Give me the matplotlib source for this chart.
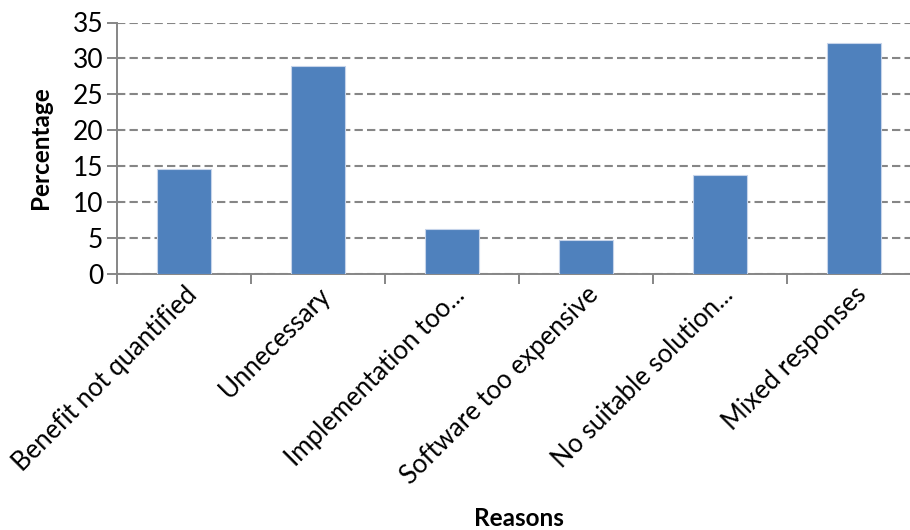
import matplotlib
matplotlib.use("Agg")
import matplotlib.pyplot as plt
import numpy as np

plt.rcParams['font.family'] = ['Lato', 'DejaVu Sans']

reasons = ['Benefit not quantified', 'Unnecessary', 'Implementation too...',
           'Software too expensive', 'No suitable solution...', 'Mixed responses']
percentage = [14.6, 28.9, 6.3, 4.7, 13.8, 32.1]
yticks = [0, 5, 10, 15, 20, 25, 30, 35]

W, H = 910, 530
fig = plt.figure(figsize=(W / 100, H / 100), dpi=100)
# axes box in pixels: left 117, right 921 (runs past the edge), top 22.5, bottom 274
ax = fig.add_axes([117 / W, (H - 274) / H, (921 - 117) / W, (274 - 22.5) / H])

grey = '#868686'
x = np.arange(len(reasons))
ax.bar(x, percentage, width=0.4, color='#4f81bd', edgecolor='#c6d4ea',
       linewidth=0.8, zorder=3)

ax.set_xlim(-0.5, len(reasons) - 0.5)
ax.set_ylim(0, 35)
ax.set_yticks(yticks)
ax.yaxis.grid(True, linestyle=(0, (4, 2)), color=grey, linewidth=1.5, zorder=0)

ax.set_xticks(np.arange(len(reasons) + 1) - 0.5, minor=False)
ax.set_xticklabels([])
ax.set_xticks(x, minor=True)
ax.set_xticklabels(reasons, minor=True, rotation=45, ha='right', va='top',
                   rotation_mode='anchor', fontsize=18.5)
ax.tick_params(axis='x', which='minor', length=0, pad=6)
ax.tick_params(axis='x', which='major', length=7, width=1.4, color=grey)
ax.tick_params(axis='y', length=7, width=1.4, color=grey, labelsize=19, pad=3)

for side in ['top', 'right']:
    ax.spines[side].set_visible(False)
for side in ['left', 'bottom']:
    ax.spines[side].set_color(grey)
    ax.spines[side].set_linewidth(1.4)

fig.text(40 / W, 1 - 148 / H, 'Percentage', rotation=90, ha='center', va='center',
         fontsize=17.5, fontweight='bold')
fig.text(519 / W, 1 - 519 / H, 'Reasons', ha='center', va='center',
         fontsize=17.5, fontweight='bold')

fig.savefig('out.png', dpi=100)
